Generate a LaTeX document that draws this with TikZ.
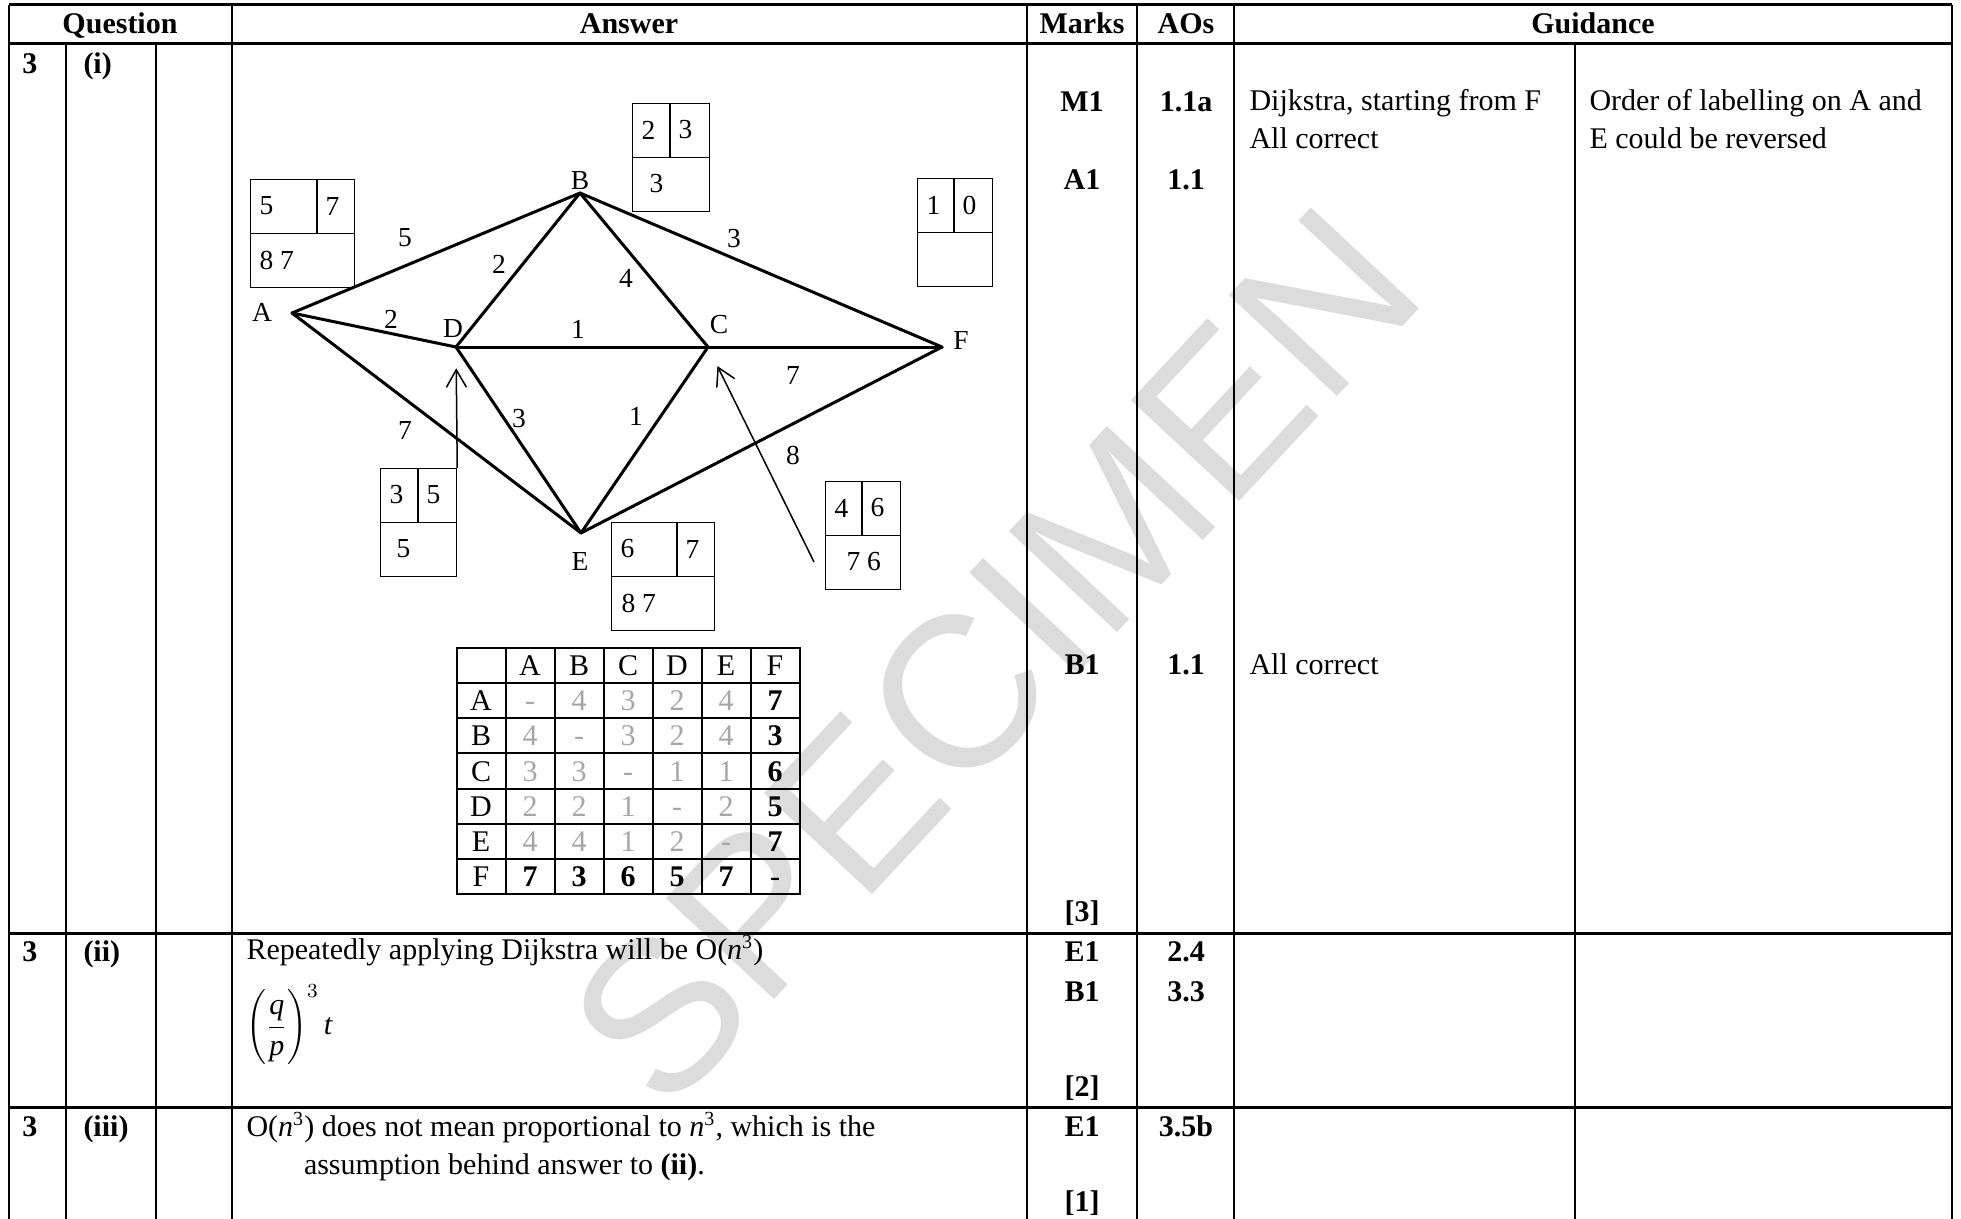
\documentclass[tikz,border=0pt]{standalone}
\usepackage{fontspec}
\setmainfont{Liberation Serif}
\newfontfamily\wmfont{Liberation Sans}
\usepackage{array}
\usetikzlibrary{arrows.meta,calc}
\definecolor{wmark}{HTML}{DCDCDC}
\definecolor{faint}{HTML}{A6A6A6}
\newcommand{\dimd}[1]{\textcolor{faint}{#1}}
% label box: name, x, y, width, split, left, right, bottom, bottom offset
\newcommand{\labbox}[9]{%
  \node[lbox,minimum width=#4*0.4pt,anchor=north west] (#1) at (#2,#3) {};
  \draw[thin] (#1.west) -- (#1.east);
  \draw[thin] ($(#1.north west)+(#5,0)$) -- ($(#1.west)+(#5,0)$);
  \node[num,anchor=west] (#1-l) at ($(#1.north west)+(9,27)$) {#6};
  \node[num,anchor=west] (#1-r) at ($(#1.north west)+(#5+8,27)$) {#7};
  \node[num,anchor=west] (#1-b) at ($(#1.north west)+(#9,81)$) {#8};
}

\begin{document}
\begin{tikzpicture}[
  x=0.4pt,y=-0.4pt,
  txt/.style={font=\fontsize{12}{15}\selectfont,inner sep=0pt,align=left},
  hd/.style={font=\fontsize{12}{15}\selectfont\bfseries,inner sep=0pt,text height=8pt,text depth=0pt},
  num/.style={font=\fontsize{11}{13}\selectfont,inner sep=0pt},
  wt/.style={num},
  vlab/.style={num},
  lbox/.style={draw,line width=0.5pt,minimum height=43.2pt,inner sep=0pt},
  gedge/.style={line width=1.2pt,line cap=round,line join=round},
  ptr/.style={-{Straight Barb[length=7pt,width=8pt]},line width=0.6pt,shorten >=8.5pt},
  hrule/.style={line width=1.2pt},
  vrule/.style={line width=0.75pt},
  wm/.style={font=\wmfont\fontsize{86}{86}\selectfont,text=wmark,rotate=47,inner sep=0pt},
  thin/.style={line width=0.5pt}
]
  \useasboundingbox (0,0) rectangle (1961,1219);
  \node[wm] (wm) at (994,656) {SPECIMEN};

  \draw[hrule] (9,5) -- (1952,5) (9,44) -- (1952,44) (9,933) -- (1952,933) (9,1107) -- (1952,1107);
  \draw[vrule] (9,5) -- (9,1219) (232,5) -- (232,1219) (1027,5) -- (1027,1219) (1137,5) -- (1137,1219)
    (1234,5) -- (1234,1219) (1952,5) -- (1952,1219)
    (66,44) -- (66,1219) (156,44) -- (156,1219) (1575,44) -- (1575,1219);

  \node[hd] (hQ) at (120,24) {Question};
  \node[hd] (hA) at (629,24) {Answer};
  \node[hd] (hM) at (1082,24) {Marks};
  \node[hd] (hO) at (1186,24) {AOs};
  \node[hd] (hG) at (1593,24) {Guidance};

  \node[hd,anchor=west] (q1) at (22,64) {3};
  \node[hd,anchor=west] (p1) at (83,64) {(i)};
  \node[hd,anchor=west] (q2) at (22,951) {3};
  \node[hd,anchor=west] (p2) at (83,951) {(ii)};
  \node[hd,anchor=west] (q3) at (22,1126) {3};
  \node[hd,anchor=west] (p3) at (83,1126) {(iii)};

  \coordinate (A) at (292,313);
  \coordinate (B) at (580,193);
  \coordinate (C) at (708,347);
  \coordinate (D) at (456,347);
  \coordinate (E) at (581,533);
  \coordinate (F) at (942,347);
  \draw[gedge] (A) -- (B);
  \draw[gedge] (A) -- (D);
  \draw[gedge] (A) -- (E);
  \draw[gedge] (B) -- (D);
  \draw[gedge] (B) -- (C);
  \draw[gedge] (B) -- (F);
  \draw[gedge] (D) -- (C);
  \draw[gedge] (C) -- (F);
  \draw[gedge] (D) -- (E);
  \draw[gedge] (C) -- (E);
  \draw[gedge] (E) -- (F);

  \node[vlab] (lA) at (262,312) {A};
  \node[vlab] (lB) at (580,181) {B};
  \node[vlab] (lC) at (719,325) {C};
  \node[vlab] (lD) at (453,329) {D};
  \node[vlab] (lE) at (580,561) {E};
  \node[vlab] (lF) at (961,340) {F};

  \node[wt] (wAB) at (405,238) {5};
  \node[wt] (wBD) at (499,264) {2};
  \node[wt] (wBC) at (626,278) {4};
  \node[wt] (wBF) at (734,239) {3};
  \node[wt] (wAD) at (391,319) {2};
  \node[wt] (wDC) at (578,329) {1};
  \node[wt] (wCF) at (793,375) {7};
  \node[wt] (wAE) at (405,430) {7};
  \node[wt] (wDE) at (519,419) {3};
  \node[wt] (wCE) at (636,416) {1};
  \node[wt] (wEF) at (793,455) {8};

  \labbox{bA}{250}{179}{104}{67}{5}{7}{8 7}{9}
  \labbox{bB}{632}{103}{77}{38}{2}{3}{3}{17}
  \labbox{bF}{917}{178}{75}{37}{1}{0}{}{9}
  \labbox{bD}{380}{468}{76}{38}{3}{5}{5}{16}
  \labbox{bE}{611}{522}{103}{66}{6}{7}{8 7}{10}
  \labbox{bC}{825}{481}{75}{37}{4}{6}{7 6}{21}

  \draw[ptr] (bD.north east) -- (D);
  \coordinate (tC) at (814,562);
  \draw[ptr] (tC) -- (C);

  \node[anchor=north west,inner sep=0pt,font=\fontsize{12}{8.6}\selectfont] (dist) at (455,646) {%
    \setlength{\tabcolsep}{0pt}\setlength{\arrayrulewidth}{0.8pt}\setlength{\extrarowheight}{4.7pt}%
    \begin{tabular}{|*{7}{>{\centering\arraybackslash}p{18.8pt}|}}
      \hline
        & A & B & C & D & E & F\\\hline
      A & \dimd{-} & \dimd{4} & \dimd{3} & \dimd{2} & \dimd{4} & \textbf{7}\\\hline
      B & \dimd{4} & \dimd{-} & \dimd{3} & \dimd{2} & \dimd{4} & \textbf{3}\\\hline
      C & \dimd{3} & \dimd{3} & \dimd{-} & \dimd{1} & \dimd{1} & \textbf{6}\\\hline
      D & \dimd{2} & \dimd{2} & \dimd{1} & \dimd{-} & \dimd{2} & \textbf{5}\\\hline
      E & \dimd{4} & \dimd{4} & \dimd{1} & \dimd{2} & \dimd{-} & \textbf{7}\\\hline
      F & \textbf{7} & \textbf{3} & \textbf{6} & \textbf{5} & \textbf{7} & -\\\hline
    \end{tabular}};

  \node[hd] (m1) at (1082,102) {M1};
  \node[hd] (m2) at (1082,180) {A1};
  \node[hd] (m3) at (1082,664) {B1};
  \node[hd] (m4) at (1082,911) {[3]};
  \node[hd] (a1) at (1186,102) {1.1a};
  \node[hd] (a2) at (1186,180) {1.1};
  \node[hd] (a3) at (1186,664) {1.1};
  \node[txt,anchor=north west] (g1) at (1249,89) {Dijkstra, starting from F\\All correct};
  \node[txt,anchor=north west] (g2) at (1589,89) {Order of labelling on A and\\E could be reversed};
  \node[txt,anchor=west] (g3) at (1249,664) {All correct};

  \node[txt,anchor=west] (ans2) at (246,951) {Repeatedly applying Dijkstra will be O(\textit{n}\textsuperscript{3})};
  \node[txt,anchor=west] (frac) at (246,1025) {$\displaystyle\left(\frac{\textit{q}}{\textit{p}}\right)^{3}\textit{t}$};
  \node[hd] (m5) at (1082,951) {E1};
  \node[hd] (m6) at (1082,991) {B1};
  \node[hd] (m7) at (1082,1086) {[2]};
  \node[hd] (a4) at (1186,951) {2.4};
  \node[hd] (a5) at (1186,991) {3.3};

  \node[txt,anchor=north west] (ans3) at (246,1112) {O(\textit{n}\textsuperscript{3}) does not mean proportional to \textit{n}\textsuperscript{3}, which is the\\\hspace*{23pt}assumption behind answer to \textbf{(ii)}.};
  \node[hd] (m8) at (1082,1126) {E1};
  \node[hd] (m9) at (1082,1201) {[1]};
  \node[hd] (a6) at (1186,1126) {3.5b};
\end{tikzpicture}
\end{document}
